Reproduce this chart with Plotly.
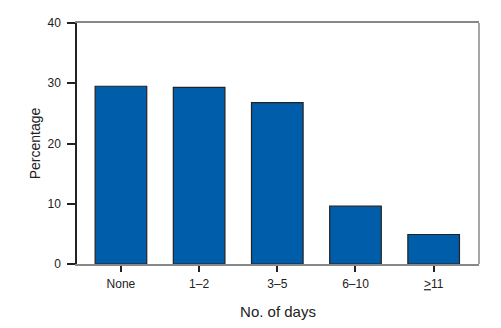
import plotly.graph_objects as go

# Share of respondents by number of days
categories = ["None", "1\u20132", "3\u20135", "6\u201310", "<u>&gt;</u>11"]
percentages = [29.5, 29.3, 26.8, 9.6, 4.9]
y_ticks = [0, 10, 20, 30, 40]

positions = list(range(len(categories)))

fig = go.Figure(
    go.Bar(
        x=positions,
        y=percentages,
        width=0.66,
        marker=dict(color="#005DAA", line=dict(color="#222222", width=1.2)),
        hoverinfo="skip",
    )
)

font_family = "Liberation Sans, Arial, Helvetica, sans-serif"

fig.update_layout(
    width=501,
    height=328,
    margin=dict(l=77, r=21.5, t=23, b=64),
    paper_bgcolor="white",
    plot_bgcolor="white",
    showlegend=False,
    font=dict(family=font_family, color="#222222"),
    xaxis=dict(
        automargin=False,
        range=[-0.562, 4.58],
        tickmode="array",
        tickvals=positions,
        ticktext=categories,
        ticks="outside",
        ticklen=6,
        tickwidth=2,
        tickcolor="#222222",
        ticklabelstandoff=2,
        showline=True,
        linecolor="#888888",
        linewidth=1.5,
        mirror=True,
        showgrid=False,
        zeroline=False,
        tickfont=dict(size=12),
        title=dict(text="No. of days", font=dict(size=15), standoff=16),
    ),
    yaxis=dict(
        automargin=False,
        range=[0, 40],
        tickmode="array",
        tickvals=y_ticks,
        ticks="outside",
        ticklen=8,
        tickwidth=2,
        tickcolor="#222222",
        ticklabelstandoff=4,
        showline=True,
        linecolor="#222222",
        linewidth=1.5,
        showgrid=False,
        zeroline=False,
        tickfont=dict(size=12),
        title=dict(text="Percentage", font=dict(size=14), standoff=4),
    ),
    shapes=[
        dict(type="line", xref="paper", yref="paper", x0=1, x1=1, y0=0, y1=1,
             line=dict(color="#888888", width=1.5)),
    ],
)

fig.write_html("out.html")
